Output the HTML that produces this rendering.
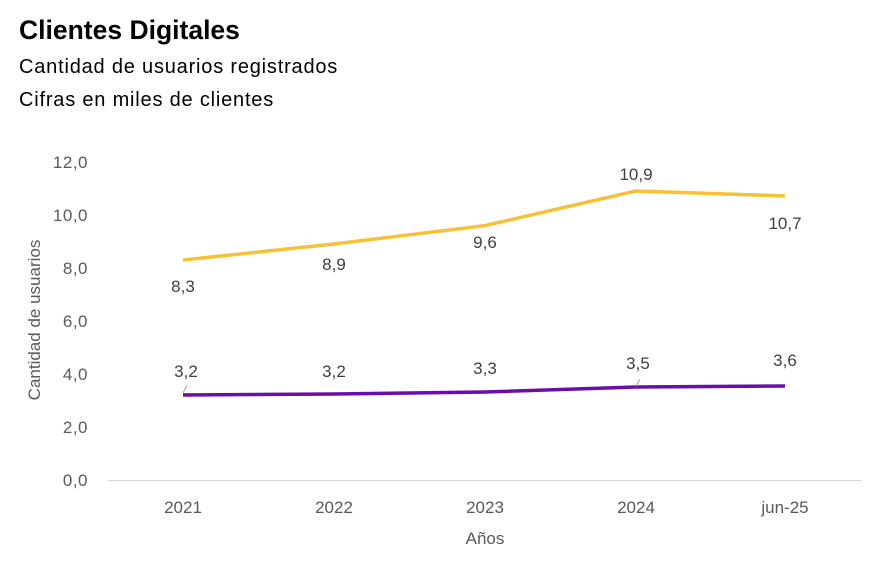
<!DOCTYPE html>
<html><head><meta charset="utf-8"><style>
body{margin:0;background:#fff;}
svg text{font-family:"Liberation Sans",sans-serif;}
</style></head><body>
<svg width="895" height="569" xmlns="http://www.w3.org/2000/svg">
<rect width="895" height="569" fill="#fff"/>
<text x="19" y="39" font-size="26.5" font-weight="bold" fill="#000">Clientes Digitales</text>
<text x="19" y="73" font-size="20" fill="#000" letter-spacing="0.8">Cantidad de usuarios registrados</text>
<text x="19" y="106" font-size="20" fill="#000" letter-spacing="0.8">Cifras en miles de clientes</text>
<g font-size="17" fill="#595959" text-anchor="end" letter-spacing="0.5">
<text x="88" y="486">0,0</text>
<text x="88" y="433">2,0</text>
<text x="88" y="380">4,0</text>
<text x="88" y="327">6,0</text>
<text x="88" y="274">8,0</text>
<text x="88" y="221">10,0</text>
<text x="88" y="168">12,0</text>
</g>
<line x1="108" y1="480.5" x2="862" y2="480.5" stroke="#d9d9d9" stroke-width="1"/>
<g font-size="17" fill="#595959" text-anchor="middle">
<text x="183" y="513">2021</text>
<text x="334" y="513">2022</text>
<text x="485" y="513">2023</text>
<text x="636" y="513">2024</text>
<text x="785" y="513">jun-25</text>
<text x="485" y="544">Años</text>
</g>
<text transform="translate(40,320) rotate(-90)" font-size="17" fill="#595959" text-anchor="middle">Cantidad de usuarios</text>
<polyline points="183,260 334,244 485,225.6 636,191 785,196" fill="none" stroke="#f6c136" stroke-width="3.5" stroke-linejoin="round"/>
<polyline points="183,395 334,394 485,392 636,387 785,386" fill="none" stroke="#6a0dad" stroke-width="3.5" stroke-linejoin="round"/>
<line x1="183" y1="393" x2="187" y2="385" stroke="#a6a6a6"/>
<line x1="636" y1="386" x2="640" y2="379" stroke="#a6a6a6"/>
<g font-size="17" fill="#404040" text-anchor="middle">
<text x="183" y="292">8,3</text>
<text x="334" y="270">8,9</text>
<text x="485" y="248">9,6</text>
<text x="636" y="180">10,9</text>
<text x="785" y="229">10,7</text>
<text x="186" y="377">3,2</text>
<text x="334" y="377">3,2</text>
<text x="485" y="374">3,3</text>
<text x="638" y="369">3,5</text>
<text x="785" y="366">3,6</text>
</g>
</svg>
</body></html>
